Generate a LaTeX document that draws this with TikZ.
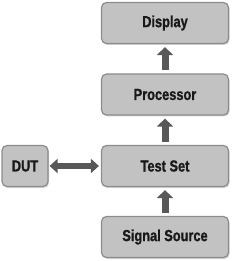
\documentclass[tikz,border=0pt]{standalone}
\usepackage{fontspec}
\setmainfont{Liberation Sans}[FakeStretch=0.8, FakeBold=1]
\usetikzlibrary{arrows.meta,shadows}
\definecolor{boxgray}{HTML}{C2C2C2}
\definecolor{boxedge}{HTML}{8C8C8C}
\definecolor{arrowgray}{HTML}{585858}
\begin{document}
\begin{tikzpicture}[x=1pt, y=-1pt,
  block/.style={draw=boxedge, line width=1.2pt, fill=boxgray, rounded corners=5pt,
    minimum width=127pt, minimum height=41pt, inner sep=0pt,
    drop shadow={shadow xshift=1pt, shadow yshift=-1.5pt, opacity=0.35},
    font=\fontsize{16}{18}\selectfont\bfseries, text=black!90},
  flow/.style={line width=7pt, draw=arrowgray,
    -{Triangle[width=16pt, length=8pt]}, shorten <=3pt, shorten >=3pt},
  both/.style={line width=6pt, draw=arrowgray,
    {Triangle[width=14pt, length=8pt]}-{Triangle[width=14pt, length=8pt]}, shorten <=1pt, shorten >=2pt}]
  \useasboundingbox (0,0) rectangle (231,261);

  % Blocks
  \node[block] (disp) at (165,23) {Display};
  \node[block] (proc) at (165,94.5) {Processor};
  \node[block] (test) at (165,166) {Test Set};
  \node[block] (src)  at (165,237) {Signal Source};
  \node[block, minimum width=46pt] (dut) at (25,166) {DUT};

  % Signal path
  \draw[flow] (src) -- (test);
  \draw[flow] (test) -- (proc);
  \draw[flow] (proc) -- (disp);
  \draw[both] (dut) -- (test);
\end{tikzpicture}
\end{document}
